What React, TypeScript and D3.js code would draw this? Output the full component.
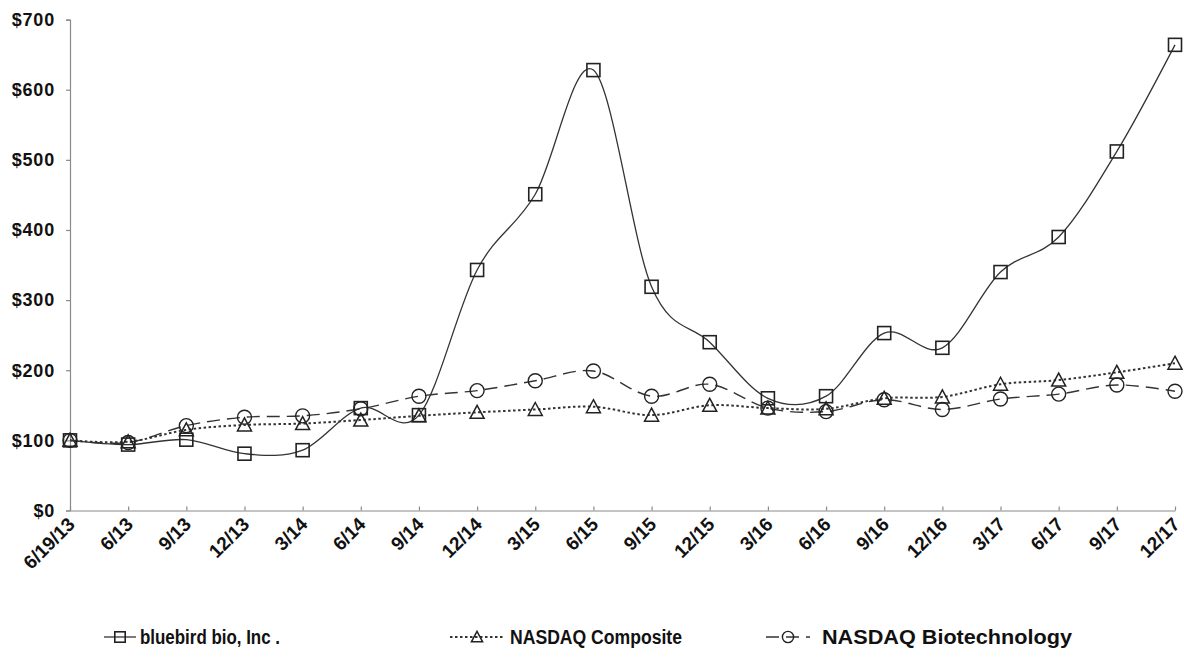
import { useRef, useEffect } from 'react';
import * as d3 from 'd3';

// x categories (quarter ends)
const periods = [
  '6/19/13', '6/13', '9/13', '12/13', '3/14', '6/14', '9/14', '12/14', '3/15', '6/15',
  '9/15', '12/15', '3/16', '6/16', '9/16', '12/16', '3/17', '6/17', '9/17', '12/17',
];

const bluebird = [100, 94, 101, 81, 86, 146, 136, 343, 451, 628, 319, 240, 160, 163, 253, 232, 340, 390, 512, 664];
const nasdaqComposite = [100, 98, 115, 122, 124, 129, 135, 140, 144, 148, 136, 150, 146, 145, 160, 162, 180, 186, 197, 210];
const nasdaqBiotech = [100, 97, 121, 133, 135, 145, 163, 171, 185, 199, 163, 180, 146, 141, 158, 144, 159, 166, 179, 170];

const yTicks = [0, 100, 200, 300, 400, 500, 600, 700];

type Marker = 'square' | 'triangle' | 'circle';

interface Series {
  name: string;
  values: number[];
  marker: Marker;
  dash: string;
  width: number;
}

const series: Series[] = [
  { name: 'NASDAQ Biotechnology', values: nasdaqBiotech, marker: 'circle', dash: '13,7', width: 1.4 },
  { name: 'NASDAQ Composite', values: nasdaqComposite, marker: 'triangle', dash: '2.5,2.5', width: 2 },
  { name: 'bluebird bio, Inc .', values: bluebird, marker: 'square', dash: '', width: 1.3 },
];

const W = 1184;
const H = 657;
const FONT = '"Liberation Sans", Arial, sans-serif';
const INK = '#222';

function drawMarker(
  g: d3.Selection<SVGGElement, unknown, null, undefined>,
  kind: Marker, x: number, y: number, s = 1,
) {
  if (kind === 'square') {
    const h = 6.5 * s;
    g.append('rect')
      .attr('x', x - h).attr('y', y - h)
      .attr('width', 2 * h).attr('height', 2 * h)
      .attr('fill', 'none').attr('stroke', INK).attr('stroke-width', 1.6);
  } else if (kind === 'triangle') {
    const p = d3.path();
    p.moveTo(x, y - 7 * s);
    p.lineTo(x + 7 * s, y + 6 * s);
    p.lineTo(x - 7 * s, y + 6 * s);
    p.closePath();
    g.append('path').attr('d', p.toString())
      .attr('fill', 'none').attr('stroke', INK).attr('stroke-width', 1.5);
  } else {
    g.append('circle').attr('cx', x).attr('cy', y).attr('r', 7 * s)
      .attr('fill', 'none').attr('stroke', INK).attr('stroke-width', 1.4);
  }
}

export default function App() {
  const svgRef = useRef<SVGSVGElement>(null);

  useEffect(() => {
    if (!svgRef.current) return;
    document.body.style.margin = '0';
    const svg = d3.select(svgRef.current);
    svg.selectAll('*').remove();

    const x = d3.scalePoint<string>().domain(periods).range([70, 1175]);
    const y = d3.scaleLinear().domain([0, 700]).range([510.5, 19.6]);

    // y axis
    const yAxis = svg.append('g')
      .attr('transform', `translate(${x(periods[0])},0)`)
      .call(d3.axisLeft(y).tickValues(yTicks).tickSize(4).tickPadding(11).tickFormat((d) => `$${d}`));
    yAxis.selectAll('text')
      .style('font-family', FONT).style('font-weight', 'bold').style('font-size', '18px')
      .style('letter-spacing', '0.8px').style('fill', '#111');

    // x axis, ticks pointing up
    const xAxis = svg.append('g')
      .attr('transform', `translate(0,${y(0)})`)
      .call(d3.axisBottom(x).tickSizeInner(-4).tickSizeOuter(0).tickFormat(() => ''));
    xAxis.selectAll('.tick text').remove();

    svg.selectAll('.domain').attr('stroke', '#8a8a8a').attr('stroke-width', 1.2);
    svg.selectAll('.tick line').attr('stroke', '#8a8a8a').attr('stroke-width', 1.2);

    // rotated x labels
    svg.append('g').selectAll('text')
      .data(periods)
      .join('text')
      .attr('transform', (d) => `translate(${(x(d) || 0) + 6},${y(0) + 15}) rotate(-45)`)
      .attr('text-anchor', 'end')
      .style('font-family', FONT).style('font-weight', 'bold').style('font-size', '19px').style('fill', '#111')
      .text((d) => d);

    // lines + markers
    const line = d3.line<number>()
      .x((_, i) => x(periods[i]) || 0)
      .y((d) => y(d))
      .curve(d3.curveCardinal.tension(0));

    series.forEach((s) => {
      svg.append('path')
        .attr('d', line(s.values) || '')
        .attr('fill', 'none')
        .attr('stroke', '#333')
        .attr('stroke-width', s.width)
        .attr('stroke-dasharray', s.dash || null);
      const mg = svg.append('g');
      s.values.forEach((v, i) => drawMarker(mg, s.marker, x(periods[i]) || 0, y(v)));
    });

    // legend
    const legendItems = [
      { s: series[2], x0: 104, x1: 136, label: 140, len: 140 },
      { s: series[1], x0: 450, x1: 504, label: 510, len: 172 },
      { s: series[0], x0: 766, x1: 810, label: 822, len: 250 },
    ];
    const ly = 637;
    legendItems.forEach((it) => {
      const lg = svg.append('g');
      lg.append('line')
        .attr('x1', it.x0).attr('x2', it.x1).attr('y1', ly).attr('y2', ly)
        .attr('stroke', '#333').attr('stroke-width', it.s.width)
        .attr('stroke-dasharray', it.s.dash || null);
      drawMarker(lg, it.s.marker, (it.x0 + it.x1) / 2, ly, 0.8);
      lg.append('text')
        .attr('x', it.label).attr('y', ly).attr('dy', '0.36em')
        .attr('textLength', it.len)
        .attr('lengthAdjust', 'spacingAndGlyphs')
        .style('font-family', FONT).style('font-weight', 'bold').style('font-size', '20px')
        .style('fill', '#111')
        .text(it.s.name);
    });
  }, []);

  return <svg ref={svgRef} width={W} height={H} style={{ display: 'block', background: '#fff' }} />;
}
